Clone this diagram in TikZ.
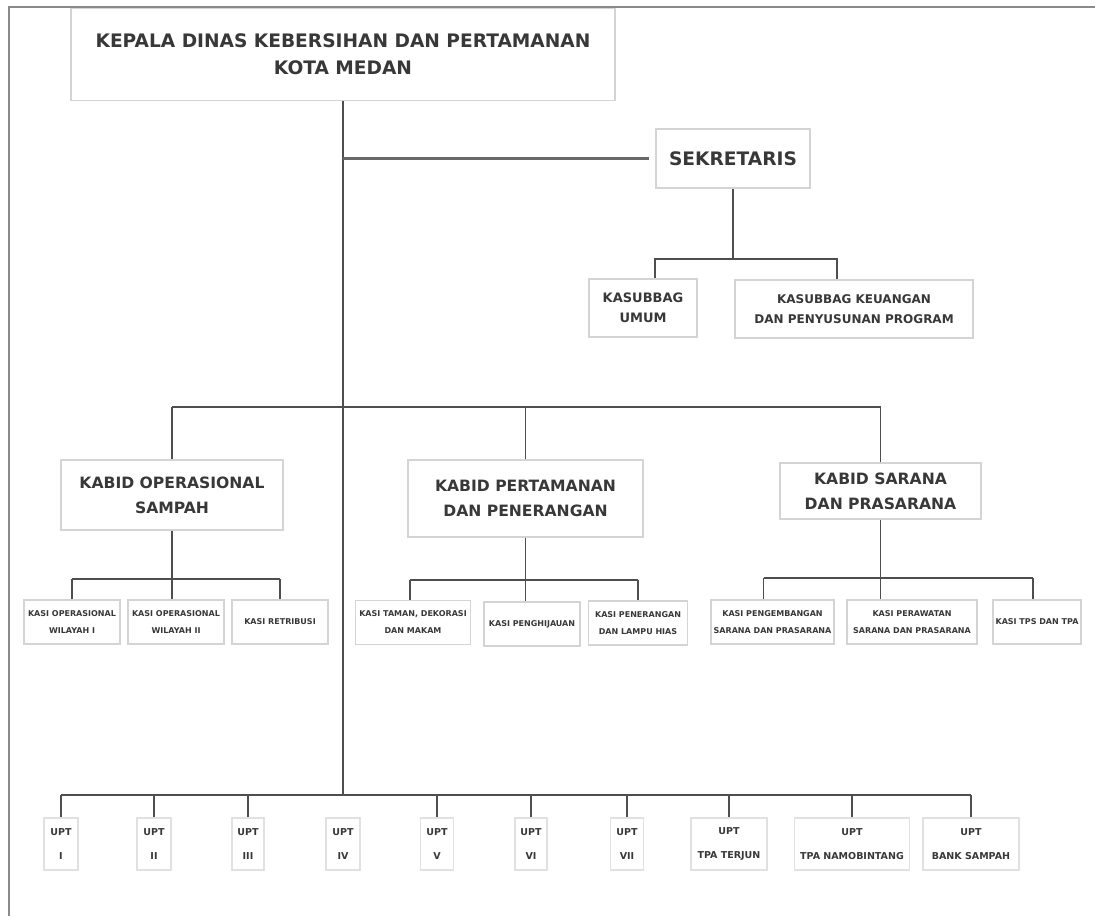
\documentclass[tikz,border=0pt]{standalone}
\usepackage{fontspec}
\setmainfont{DejaVu Sans}
\definecolor{txt}{HTML}{383838}
\definecolor{boxgray}{HTML}{D4D4D4}
\definecolor{linegray}{HTML}{4E4E4E}
\definecolor{framegray}{HTML}{8A8A8A}
\tikzset{
  box/.style={draw=boxgray, line width=1.2pt, fill=white, inner sep=0pt, align=center, text=txt},
  titlebox/.style={box, font=\bfseries\fontsize{18.6}{27}\selectfont},
  kabidbox/.style={box, font=\bfseries\fontsize{15.6}{25}\selectfont},
  subbox/.style={box, font=\bfseries\fontsize{12}{20}\selectfont},
  kasibox/.style={box, minimum height=44pt, font=\bfseries\fontsize{8}{17}\selectfont},
  uptbox/.style={box, draw=boxgray!70, minimum height=52pt, font=\bfseries\fontsize{9.5}{24}\selectfont},
  conn/.style={draw=linegray, line width=1.5pt},
  barconn/.style={draw=linegray, line width=2.4pt},
  sekconn/.style={draw=linegray!85, line width=3pt},
  frameline/.style={draw=framegray, line width=2.2pt}
}
\begin{document}
\begin{tikzpicture}[x=1pt,y=-1pt]
\useasboundingbox (0,0) rectangle (1095,916);
\fill[white] (0,0) rectangle (1095,916);
\draw[frameline] (9,916) -- (9,7) -- (1095,7);

% nodes
\node[titlebox, minimum width=544pt, minimum height=92pt] (kepala) at (343,54.5) {KEPALA DINAS KEBERSIHAN DAN PERTAMANAN\\KOTA MEDAN};
\node[titlebox, minimum width=154pt, minimum height=59pt] (sek) at (733,158.5) {SEKRETARIS};
\node[subbox, minimum width=108pt, minimum height=58pt, font=\bfseries\fontsize{13}{20}\selectfont] (kumum) at (643,308) {KASUBBAG\\UMUM};
\node[subbox, minimum width=238pt, minimum height=58pt] (kkeu) at (854,309) {KASUBBAG KEUANGAN\\DAN PENYUSUNAN PROGRAM};

\node[kabidbox, minimum width=222pt, minimum height=70pt] (kop) at (172,495) {KABID OPERASIONAL\\SAMPAH};
\node[kabidbox, minimum width=235pt, minimum height=77pt] (kpert) at (525.5,498.5) {KABID PERTAMANAN\\DAN PENERANGAN};
\node[kabidbox, minimum width=201pt, minimum height=56pt] (ksar) at (880.5,491) {KABID SARANA\\DAN PRASARANA};

\node[kasibox, minimum width=96pt] (kasi1) at (72,622) {KASI OPERASIONAL\\WILAYAH I};
\node[kasibox, minimum width=96pt] (kasi2) at (176,622) {KASI OPERASIONAL\\WILAYAH II};
\node[kasibox, minimum width=96pt] (kasi3) at (280,622) {KASI RETRIBUSI};
\node[kasibox, minimum width=115pt] (kasi4) at (413,622.5) {KASI TAMAN, DEKORASI\\DAN MAKAM};
\node[kasibox, minimum width=96pt] (kasi5) at (532,624) {KASI PENGHIJAUAN};
\node[kasibox, minimum width=99pt] (kasi6) at (638,623) {KASI PENERANGAN\\DAN LAMPU HIAS};
\node[kasibox, minimum width=123pt] (kasi7) at (772.5,622) {KASI PENGEMBANGAN\\SARANA DAN PRASARANA};
\node[kasibox, minimum width=130pt] (kasi8) at (912,622) {KASI PERAWATAN\\SARANA DAN PRASARANA};
\node[kasibox, minimum width=88pt] (kasi9) at (1037,622) {KASI TPS DAN TPA};

\node[uptbox, minimum width=34pt] (upt1) at (61,844) {UPT\\I};
\node[uptbox, minimum width=34pt] (upt2) at (154,844) {UPT\\II};
\node[uptbox, minimum width=32pt] (upt3) at (248,844) {UPT\\III};
\node[uptbox, minimum width=34pt] (upt4) at (343,844) {UPT\\IV};
\node[uptbox, minimum width=33pt] (upt5) at (437,844) {UPT\\V};
\node[uptbox, minimum width=32pt] (upt6) at (531,844) {UPT\\VI};
\node[uptbox, minimum width=33pt] (upt7) at (627,844) {UPT\\VII};
\node[uptbox, minimum width=76pt] (upt8) at (729,844) {UPT\\TPA TERJUN};
\node[uptbox, minimum width=115pt] (upt9) at (852,844) {UPT\\TPA NAMOBINTANG};
\node[uptbox, minimum width=96pt] (upt10) at (971,844) {UPT\\BANK SAMPAH};

% helper coordinates
\coordinate (ub) at (343,795);
\coordinate (kb) at (343,407);
\coordinate (sb) at (733,259);
\coordinate (ka1) at (172,579);
\coordinate (ka2) at (525.5,580);
\coordinate (ka3) at (880.5,578);

% trunk
\draw[conn] (kepala.south) -- (ub);
% sekretaris
\draw[sekconn] (kepala.south |- sek.west) -- ([xshift=-6pt]sek.west);
\draw[conn] (sek.south) -- (sb);
\draw[conn] ([xshift=12pt]kumum.north) |- (sb) -| ([xshift=-17pt]kkeu.north);

% kabid
\draw[barconn] (kop.north |- kb) -- (ksar.north |- kb);
\draw[conn] (kop.north) -- (kop.north |- kb);
\draw[conn] (kpert.north) -- (kpert.north |- kb);
\draw[conn] (ksar.north) -- (ksar.north |- kb);

% kasi group 1
\draw[conn] (kop.south) -- (kop.south |- kasi2.north);
\draw[barconn] (kasi1.north |- ka1) -- (kasi3.north |- ka1);
\draw[conn] (kasi1.north) -- (kasi1.north |- ka1);
\draw[conn] (kasi3.north) -- (kasi3.north |- ka1);
% kasi group 2
\draw[conn] (kpert.south) -- (kpert.south |- kasi5.north);
\draw[barconn] ([xshift=-3pt]kasi4.north |- ka2) -- (kasi6.north |- ka2);
\draw[conn] ([xshift=-3pt]kasi4.north) -- ([xshift=-3pt]kasi4.north |- ka2);
\draw[conn] (kasi6.north) -- (kasi6.north |- ka2);
% kasi group 3
\draw[conn] (ksar.south) -- (ksar.south |- kasi8.north);
\draw[barconn] ([xshift=-9pt]kasi7.north |- ka3) -- ([xshift=-4pt]kasi9.north |- ka3);
\draw[conn] ([xshift=-9pt]kasi7.north) -- ([xshift=-9pt]kasi7.north |- ka3);
\draw[conn] ([xshift=-4pt]kasi9.north) -- ([xshift=-4pt]kasi9.north |- ka3);

% UPT
\draw[barconn] (upt1.north |- ub) -- (upt10.north |- ub);
\foreach \u in {upt1,upt2,upt3,upt5,upt6,upt7,upt8,upt9,upt10}
  \draw[conn] (\u.north) -- (\u.north |- ub);
\end{tikzpicture}
\end{document}
